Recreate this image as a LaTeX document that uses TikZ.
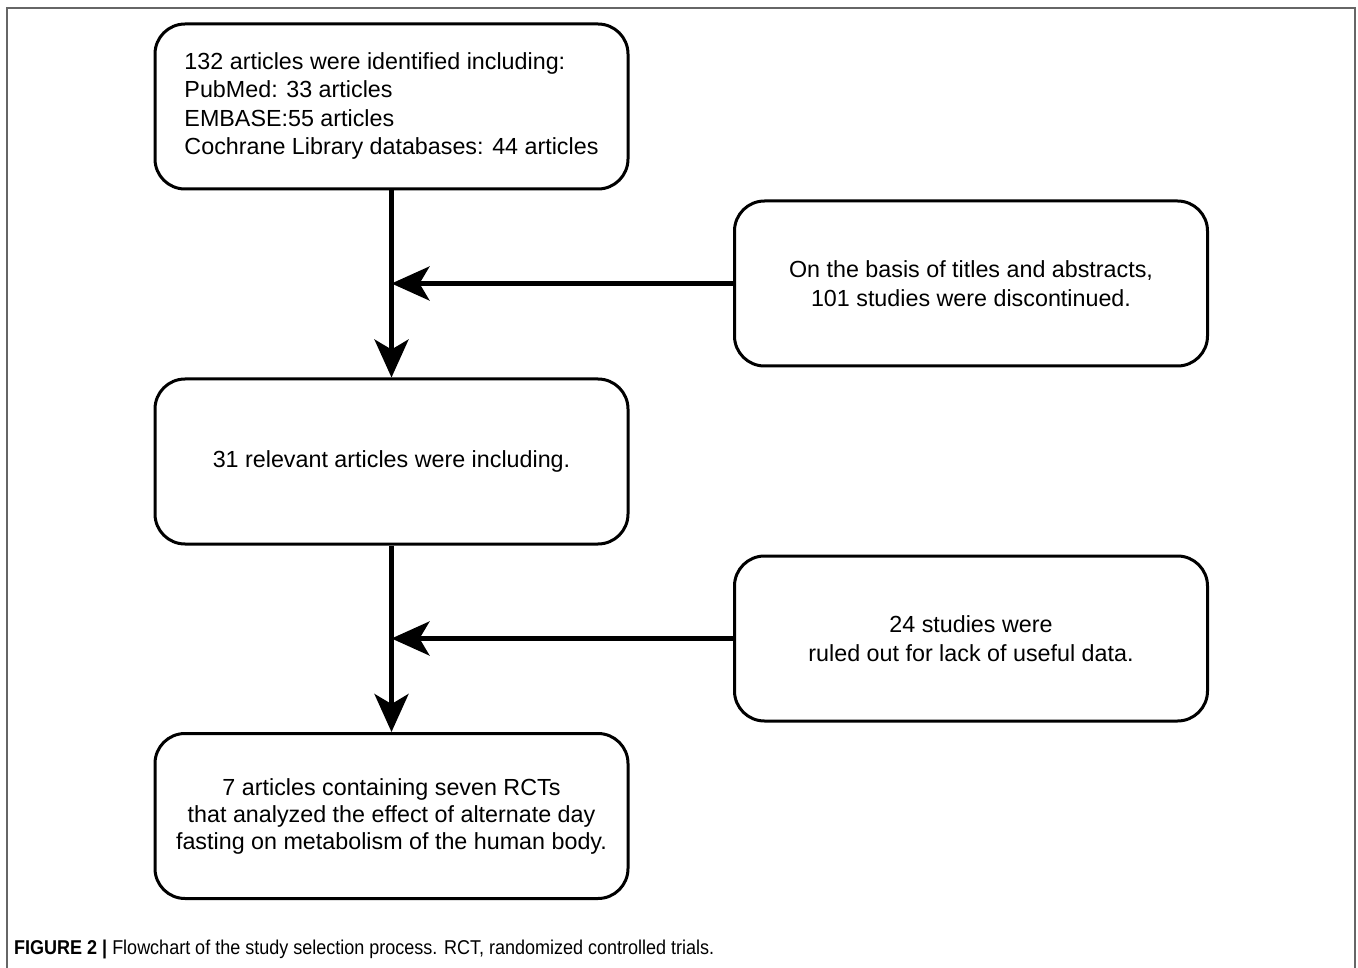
\documentclass[tikz,border=0pt]{standalone}
\usepackage{fontspec}
\setmainfont{Liberation Sans}
\newfontfamily\capfont[FakeStretch=0.9]{Liberation Sans}
\usetikzlibrary{arrows.meta}
\begin{document}
\begin{tikzpicture}[x=1pt,y=-1pt,
  flowbox/.style={draw=black,line width=3pt,rounded corners=30pt,minimum width=473pt,minimum height=165pt,align=center,font=\fontsize{23.3}{28.5}\selectfont,inner sep=0pt},
  conn/.style={line width=4.5pt,-{Stealth[length=38pt,width=34pt,inset=10pt]}}]
\useasboundingbox (0,0) rectangle (1358,968);
\draw[gray!80!black,line width=1.5pt] (7,968) -- (7,8) -- (1355,8) -- (1355,968);
\node[flowbox] (b1) at (391.5,106.5) {\begin{tabular}{@{}l@{}}132 articles were identified including:\\PubMed: 33 articles\\EMBASE:55 articles\\Cochrane Library databases: 44 articles\end{tabular}};
\node[flowbox] (b2) at (971,283.5) {On the basis of titles and abstracts,\\101 studies were discontinued.};
\node[flowbox] (b3) at (391.5,461.5) {31 relevant articles were including.};
\node[flowbox] (b4) at (971,638.5) {24 studies were\\ruled out for lack of useful data.};
\node[flowbox,font=\fontsize{23.3}{27}\selectfont] (b5) at (391.5,816) {7 articles containing seven RCTs\\that analyzed the effect of alternate day\\fasting on metabolism of the human body.};
\coordinate (j1) at (b1.south |- b2.west);
\coordinate (j2) at (b3.south |- b4.west);
\draw[conn] (b1.south) -- (b3.north);
\draw[conn] (b2.west) -- (j1);
\draw[conn] (b3.south) -- (b5.north);
\draw[conn] (b4.west) -- (j2);
\node[anchor=base west,inner sep=0pt,font=\fontsize{20}{22}\selectfont] (cap) at (14,954) {\capfont\textbf{FIGURE 2 |} Flowchart of the study selection process. RCT, randomized controlled trials.};
\end{tikzpicture}
\end{document}
